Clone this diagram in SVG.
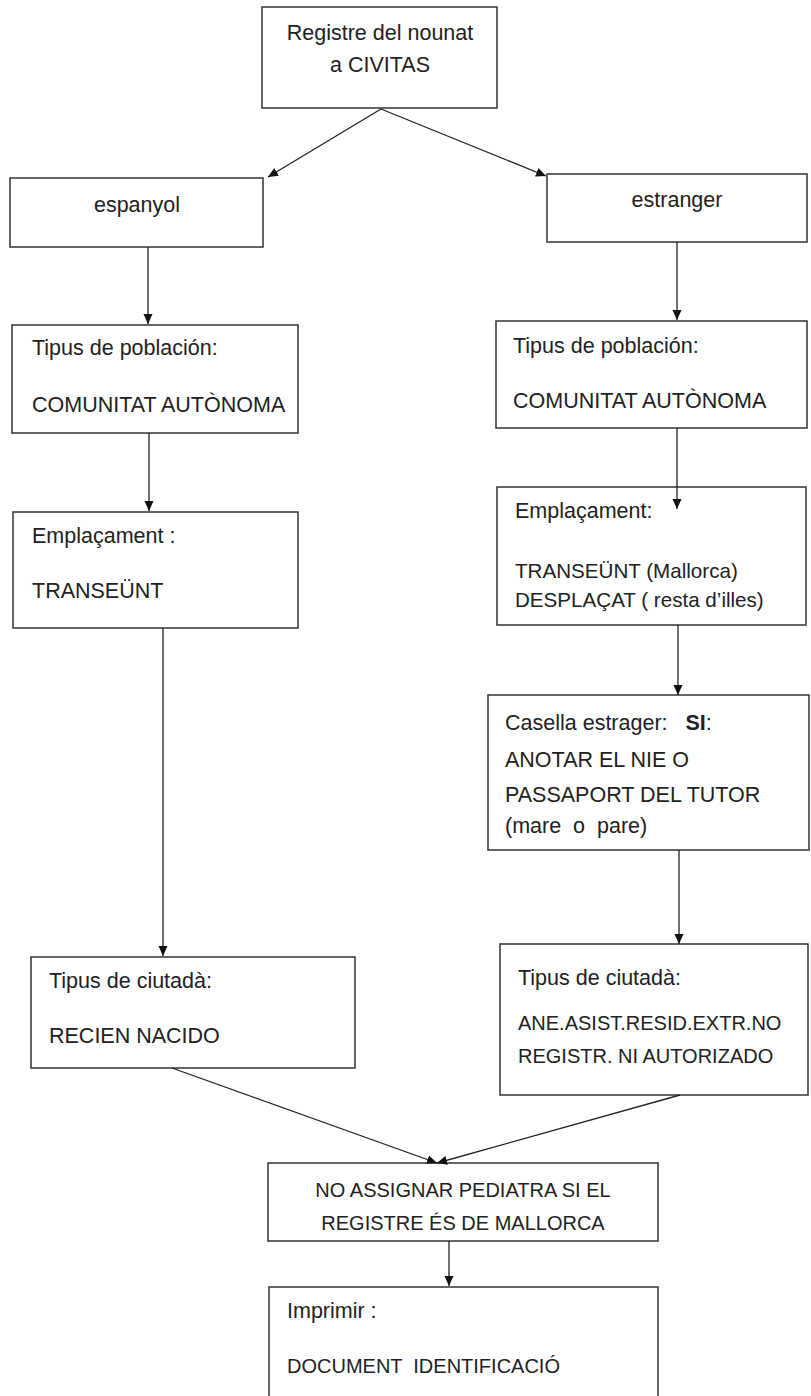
<svg xmlns="http://www.w3.org/2000/svg" width="811" height="1396" viewBox="0 0 811 1396">
<style>
.box{fill:#fff;stroke:#333;stroke-width:1.5}
.t{font-family:"Liberation Sans",Arial,sans-serif;font-size:21.5px;fill:#222}
.s{font-size:20px}
.m{font-size:20.6px}
.c{text-anchor:middle}
.ln{stroke:#222;stroke-width:1.3;fill:none;marker-end:url(#ah)}
</style>
<defs>
<marker id="ah" viewBox="0 0 10 10" refX="10" refY="5" markerWidth="10" markerHeight="10" markerUnits="userSpaceOnUse" orient="auto">
<path d="M0,0.5 L10,5 L0,9.5 Z" fill="#111"/>
</marker>
</defs>
<rect width="811" height="1396" fill="#fff"/>
<g id="n-registre">
<rect class="box" x="262" y="7" width="235" height="101"/>
<text class="t c" x="380" y="40">Registre del nounat</text>
<text class="t c" x="380" y="72">a CIVITAS</text>
</g>
<g id="n-espanyol">
<rect class="box" x="10" y="178" width="253" height="69"/>
<text class="t c" x="137" y="212">espanyol</text>
</g>
<g id="n-estranger">
<rect class="box" x="547" y="174" width="260" height="68"/>
<text class="t c" x="677" y="207">estranger</text>
</g>
<g id="n-poblacio-esp">
<rect class="box" x="12" y="325" width="286" height="108"/>
<text class="t" x="32" y="355">Tipus de población:</text>
<text class="t" x="32" y="412">COMUNITAT AUTÒNOMA</text>
</g>
<g id="n-poblacio-est">
<rect class="box" x="496" y="321" width="311" height="107"/>
<text class="t" x="513" y="353">Tipus de población:</text>
<text class="t" x="513" y="408">COMUNITAT AUTÒNOMA</text>
</g>
<g id="n-emplacament-esp">
<rect class="box" x="13" y="512" width="285" height="116"/>
<text class="t" x="32" y="543">Emplaçament :</text>
<text class="t" x="32" y="598">TRANSEÜNT</text>
</g>
<g id="n-emplacament-est">
<rect class="box" x="497" y="487" width="309" height="138"/>
<text class="t" x="515" y="518">Emplaçament:</text>
<text class="t m" x="515" y="578">TRANSEÜNT (Mallorca)</text>
<text class="t m" x="515" y="607">DESPLAÇAT ( resta d’illes)</text>
</g>
<g id="n-casella">
<rect class="box" x="488" y="695" width="321" height="155"/>
<text class="t" x="505" y="730" xml:space="preserve">Casella estrager:   <tspan font-weight="bold">SI</tspan>:</text>
<text class="t" x="505" y="767">ANOTAR EL NIE O</text>
<text class="t" x="505" y="802">PASSAPORT DEL TUTOR</text>
<text class="t" x="505" y="833" xml:space="preserve">(mare  o  pare)</text>
</g>
<g id="n-ciutada-esp">
<rect class="box" x="31" y="957" width="324" height="111"/>
<text class="t" x="49" y="988">Tipus de ciutadà:</text>
<text class="t" x="49" y="1043">RECIEN NACIDO</text>
</g>
<g id="n-ciutada-est">
<rect class="box" x="500" y="944" width="308" height="151"/>
<text class="t" x="518" y="985">Tipus de ciutadà:</text>
<text class="t s" x="518" y="1030">ANE.ASIST.RESID.EXTR.NO</text>
<text class="t s" x="518" y="1063">REGISTR. NI AUTORIZADO</text>
</g>
<g id="n-pediatra">
<rect class="box" x="268" y="1163" width="390" height="78"/>
<text class="t s c" x="463" y="1197">NO ASSIGNAR PEDIATRA SI EL</text>
<text class="t s c" x="463" y="1230">REGISTRE ÉS DE MALLORCA</text>
</g>
<g id="n-imprimir">
<rect class="box" x="269" y="1287" width="389" height="130"/>
<text class="t" x="287" y="1318">Imprimir :</text>
<text class="t s" x="287" y="1373" xml:space="preserve">DOCUMENT  IDENTIFICACIÓ</text>
</g>
<g id="connectors">
<line class="ln" x1="381" y1="109" x2="268" y2="177"/>
<line class="ln" x1="381" y1="109" x2="546" y2="176"/>
<line class="ln" x1="148" y1="247" x2="148" y2="324"/>
<line class="ln" x1="677" y1="242" x2="677" y2="320"/>
<line class="ln" x1="149" y1="433" x2="149" y2="511"/>
<line class="ln" x1="677" y1="428" x2="677" y2="509"/>
<line class="ln" x1="163" y1="628" x2="163" y2="956"/>
<line class="ln" x1="678" y1="625" x2="678" y2="695"/>
<line class="ln" x1="679" y1="850" x2="679" y2="944"/>
<line class="ln" x1="172" y1="1068" x2="437" y2="1163"/>
<line class="ln" x1="680" y1="1095" x2="437" y2="1163"/>
<line class="ln" x1="449" y1="1241" x2="449" y2="1286"/>
</g>
</svg>
